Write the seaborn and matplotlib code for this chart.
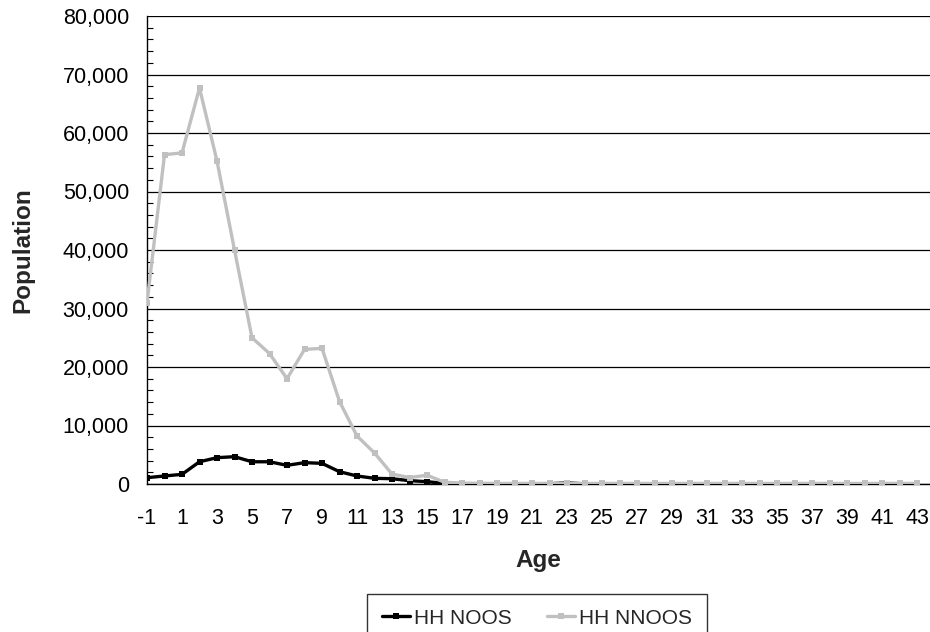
import numpy as np
import pandas as pd
import matplotlib
matplotlib.use("Agg")
import matplotlib.pyplot as plt
import seaborn as sns
from matplotlib.ticker import MultipleLocator, FuncFormatter

ages = list(range(-1, 44))
hh_noos = [1080, 1370, 1650, 3800, 4500, 4670, 3800, 3800, 3190, 3650, 3530, 2100,
           1370, 970, 900, 570, 400, 100, 60, 50, 40, 30, 30, 40, 200, 20, 10, 10,
           10, 10, 10, 10, 10, 10, 10, 10, 10, 10, 10, 10, 10, 10, 10, 10, 10]
hh_nnoos = [31000, 56300, 56600, 67700, 55200, 40000, 25000, 22300, 18000, 23000, 23200, 14100,
            8200, 5300, 1700, 1100, 1500, 300, 150, 120, 100, 100, 100, 100, 100, 100, 100, 100,
            100, 100, 100, 100, 100, 100, 100, 100, 100, 100, 100, 100, 100, 100, 100, 100, 100]

df = pd.DataFrame({
    "Age": ages * 2,
    "Population": hh_noos + hh_nnoos,
    "Series": ["HH NOOS"] * len(ages) + ["HH NNOOS"] * len(ages),
})

sns.set_style("white")
plt.rcParams["font.family"] = ["Liberation Sans", "DejaVu Sans"]

W, H = 930, 632
fig = plt.figure(figsize=(W / 100, H / 100), dpi=100)
ax = fig.add_axes([147 / W, 1 - 484 / H, 1 - 147 / W, (484 - 16) / H])

sns.lineplot(data=df, x="Age", y="Population", hue="Series",
             palette={"HH NOOS": "#000000", "HH NNOOS": "#c0c0c0"},
             hue_order=["HH NOOS", "HH NNOOS"],
             marker="s", markersize=5, markeredgewidth=0, linewidth=2.4,
             ax=ax, legend=True, zorder=3)

ax.set_xlim(-1, 43.74)
ax.set_ylim(0, 80000)
ax.yaxis.set_major_locator(MultipleLocator(10000))
ax.yaxis.set_minor_locator(MultipleLocator(2000))
ax.yaxis.set_major_formatter(FuncFormatter(lambda v, p: f"{int(v):,}"))
ax.set_xticks(ages)
ax.set_xticklabels([str(a) if (a + 1) % 2 == 0 else "" for a in ages])
ax.grid(axis="y", which="major", color="black", linewidth=0.9)
ax.grid(axis="x", visible=False)
ax.set_axisbelow(True)

for s in ["top", "right"]:
    ax.spines[s].set_visible(False)
for s in ["left", "bottom"]:
    ax.spines[s].set_color("black")
    ax.spines[s].set_linewidth(1.0)

ax.tick_params(axis="x", which="major", direction="in", length=4.5, width=0.8, colors="black",
               labelsize=15.5, pad=17)
ax.tick_params(axis="y", which="major", direction="in", length=4.5, width=0.8, colors="black",
               labelsize=15.5, pad=13)
ax.tick_params(axis="y", which="minor", direction="in", length=4.5, width=0.8, colors="black", left=True)

ax.set_xlabel("Age", fontsize=17.5, fontweight="bold", labelpad=15)
ax.set_ylabel("Population", fontsize=17.5, fontweight="bold", labelpad=20)

leg = ax.legend(loc="upper left", bbox_to_anchor=(367 / W, 1 - 594 / H),
                bbox_transform=fig.transFigure, ncol=2, frameon=True,
                fancybox=False, edgecolor="black", fontsize=15, handlelength=1.35,
                columnspacing=1.7, borderpad=0.7, handletextpad=0.2, borderaxespad=0)
leg.get_frame().set_linewidth(1.0)

fig.savefig("out.png", dpi=100)
